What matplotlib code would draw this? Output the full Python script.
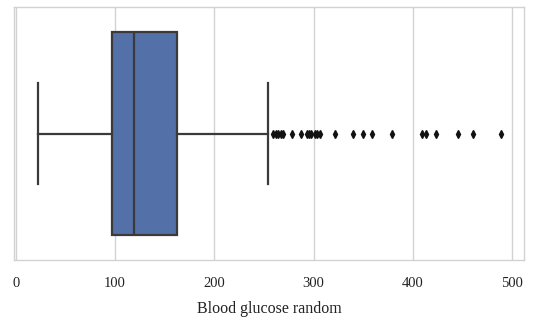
import numpy as np
import matplotlib as mpl
mpl.use("Agg")
import matplotlib.pyplot as plt

# box statistics
label = "Blood glucose random"
q1 = 97
median = 119
q3 = 162
whisker_low = 22
whisker_high = 254
outliers = [259, 262, 264, 267, 269, 278, 287, 293, 295, 297, 301, 303, 306,
            322, 340, 350, 359, 379, 409, 413, 423, 446, 461, 489]
xticks = [0, 100, 200, 300, 400, 500]

plt.rcParams["font.family"] = ["Liberation Serif", "DejaVu Serif"]

fig = plt.figure(figsize=(5.33, 3.2), dpi=100)
ax = fig.add_axes([0.026, 0.1875, 0.957, 0.79])

stats = [dict(med=median, q1=q1, q3=q3, whislo=whisker_low,
              whishi=whisker_high, fliers=outliers, label="")]
edge = "#3a3a3a"
ax.bxp(stats, positions=[0], widths=0.8, orientation="horizontal",
       patch_artist=True, capwidths=0.4,
       boxprops=dict(facecolor="#5470a8", edgecolor=edge, linewidth=1.6),
       medianprops=dict(color=edge, linewidth=1.6),
       whiskerprops=dict(color=edge, linewidth=1.6),
       capprops=dict(color=edge, linewidth=1.6),
       flierprops=dict(marker="d", markersize=3.6, markerfacecolor="#111111",
                       markeredgecolor="#111111"))

ax.set_xlim(-2, 512)
ax.set_ylim(0.5, -0.5)
ax.set_xticks(xticks)
ax.set_yticks([])
ax.grid(axis="x", color="#d2d2d2", linewidth=1.0)
ax.set_axisbelow(True)
for s in ax.spines.values():
    s.set_color("#d2d2d2")
    s.set_linewidth(1.0)
ax.tick_params(axis="x", length=0, pad=12, labelsize=10.5, labelcolor="#222222")
ax.set_xlabel(label, fontsize=11.5, labelpad=8, color="#222222")

fig.savefig("out.png", dpi=100)
